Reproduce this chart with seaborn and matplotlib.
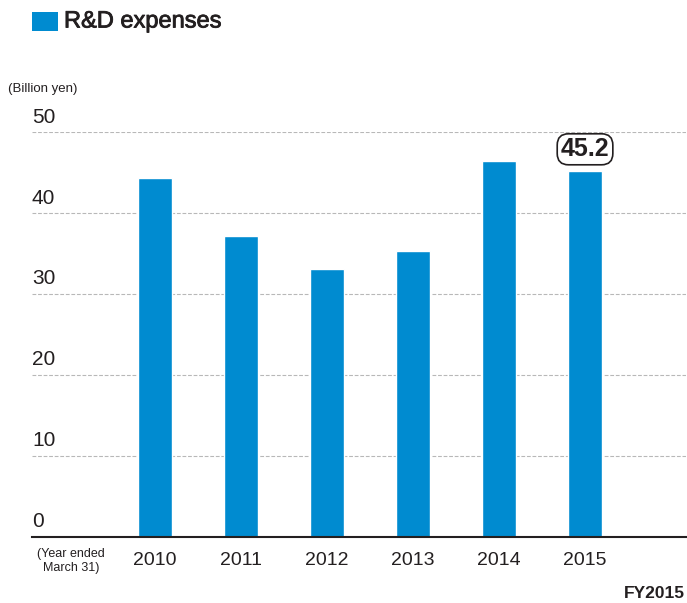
import matplotlib
matplotlib.use("Agg")
import matplotlib.pyplot as plt
import matplotlib.transforms as mtransforms
from matplotlib.patches import Rectangle
import matplotlib.patheffects as pe
import pandas as pd
import seaborn as sns

# R&D expenses by fiscal year (billion yen)
years = ["2010", "2011", "2012", "2013", "2014", "2015"]
expenses = [44.3, 37.2, 33.1, 35.3, 46.5, 45.2]
y_ticks = [0, 10, 20, 30, 40, 50]
highlight_year = "2015"
highlight_value = 45.2

BLUE = "#008bd0"
INK = "#231f20"
GRID = "#b8b8b8"

sns.set_theme(style="white")
plt.rcParams["font.family"] = ["Liberation Sans", "DejaVu Sans"]

W, H = 687, 603
fig = plt.figure(figsize=(W / 100, H / 100), dpi=100)


def fx(px):
    return px / W


def fy(py):
    return 1 - py / H


# plot area: left edge at 32 px, baseline at 537 px, 50 gridline at 132 px
ax = fig.add_axes([fx(32), fy(537), fx(686) - fx(32), fy(132.3) - fy(537)])

df = pd.DataFrame({"year": years, "expenses": expenses})
sns.barplot(data=df, x="year", y="expenses", color=BLUE, width=0.395,
            saturation=1, ax=ax, zorder=3)

ax.set_xlim(-1.43, 6.174)
ax.set_ylim(0, 50)
ax.set_yticks(y_ticks)
ax.set_yticklabels([])
ax.set_axisbelow(True)
ax.grid(axis="y", color=GRID, linewidth=0.8, linestyle=(0, (3.4, 1.6)))
ax.grid(axis="x", visible=False)
ax.set_xlabel("")
ax.set_ylabel("")

for side in ("top", "left", "right"):
    ax.spines[side].set_visible(False)
ax.spines["bottom"].set_color(INK)
ax.spines["bottom"].set_linewidth(1.5)
ax.spines["bottom"].set_zorder(5)

ax.tick_params(axis="x", length=0, pad=11, labelsize=14, labelcolor=INK)
ax.tick_params(axis="y", length=0)

# y-axis values sit just above their gridlines
trans = mtransforms.blended_transform_factory(ax.transAxes, ax.transData)
for v in y_ticks:
    ax.annotate(str(v), xy=(0, v), xycoords=trans, xytext=(0, 7),
                textcoords="offset points", ha="left", va="baseline",
                fontsize=15, color=INK)

# value callout above the latest bar
ax.text(years.index(highlight_year), 47.9, f"{highlight_value}",
        ha="center", va="center", fontsize=18, fontweight="bold",
        color=INK, zorder=6,
        bbox=dict(boxstyle="round,pad=0.14,rounding_size=0.45",
                  facecolor="white", edgecolor=INK, linewidth=1.2))

# title with legend swatch
fig.patches.append(Rectangle((fx(32), fy(31)), fx(58) - fx(32), fy(12) - fy(31),
                             transform=fig.transFigure, facecolor=BLUE,
                             edgecolor="none"))
fig.text(fx(64), fy(21.5), "R&D expenses", ha="left", va="center",
         fontsize=17, color=INK,
         path_effects=[pe.withStroke(linewidth=0.6, foreground=INK)])

fig.text(fx(8), fy(89), "(Billion yen)", ha="left", va="center",
         fontsize=9.5, color=INK)
fig.text(fx(71), fy(561), "(Year ended\nMarch 31)", ha="center", va="center",
         fontsize=9, color=INK, linespacing=1.3)
fig.text(fx(685), fy(594), "FY2015", ha="right", va="center",
         fontsize=12.5, fontweight="bold", color=INK)

fig.savefig("out.png", dpi=100, facecolor="white")
